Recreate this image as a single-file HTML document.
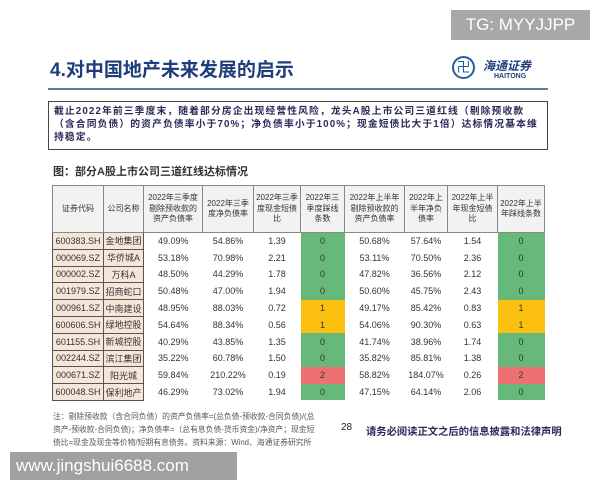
<!DOCTYPE html>
<html><head><meta charset="utf-8"><style>
body{margin:0;width:600px;height:480px;background:#fff;position:relative;overflow:hidden;font-family:"Liberation Sans","Noto Sans CJK SC",sans-serif;}
.abs{position:absolute}
table{border-collapse:collapse;table-layout:fixed;position:absolute;left:52px;top:185px;width:492px}
td{font-size:9px;text-align:center;height:15.8px;padding:0;color:#333;border:none}
th{font-size:8px;font-weight:normal;background:#f2f2f2;border:1px solid #888;height:46px;color:#333;line-height:10.5px;padding:0 2px}
td.c{background:#f5e6d8;border:1px solid #555;color:#333}
.g{background:#66b978}.y{background:#fcc010}.r{background:#ee7070}
</style></head><body>
<div class="abs" style="left:451px;top:10px;width:139px;height:30px;background:#a8a8a8;color:#fff;font-size:17px;line-height:30px;text-align:center">TG: MYYJJPP</div>
<div class="abs" style="left:50px;top:55px;font-size:19px;font-weight:bold;color:#1f3d7a">4.对中国地产未来发展的启示</div>
<div class="abs" style="left:452px;top:56px;width:23px;height:23px;border:2px solid #1f5f9f;border-radius:50%;box-sizing:border-box;color:#1f5f9f;font-size:14px;line-height:19px;text-align:center">卍</div>
<div class="abs" style="left:483px;top:57px;font-size:12px;color:#1f3d7a;font-style:italic;font-weight:bold">海通证券</div>
<div class="abs" style="left:494px;top:73px;font-size:7px;color:#1f3d7a;font-weight:bold">HAITONG</div>
<div class="abs" style="left:48px;top:88px;width:500px;height:2px;background:#5d7ca8"></div>
<div class="abs" style="left:48px;top:101px;width:500px;height:49px;border:1px solid #444;box-sizing:border-box;padding:3px 5px;font-size:9.8px;line-height:13px;color:#2a2a5a;font-weight:bold;white-space:nowrap;letter-spacing:1.1px">截止2022年前三季度末，随着部分房企出现经营性风险，龙头A股上市公司三道红线（剔除预收款<br>（含合同负债）的资产负债率小于70%；净负债率小于100%；现金短债比大于1倍）达标情况基本维<br>持稳定。</div>
<div class="abs" style="left:53px;top:163px;font-size:11px;font-weight:bold;color:#333">图：部分A股上市公司三道红线达标情况</div>
<table>
<colgroup><col style="width:51px"><col style="width:40px"><col style="width:59px"><col style="width:51px"><col style="width:47px"><col style="width:44px"><col style="width:60px"><col style="width:43px"><col style="width:50px"><col style="width:47px"></colgroup>
<tr><th>证券代码</th><th>公司名称</th><th>2022年三季度剔除预收款的资产负债率</th><th>2022年三季度净负债率</th><th>2022年三季度现金短债比</th><th>2022年三季度踩线条数</th><th>2022年上半年剔除预收款的资产负债率</th><th>2022年上半年净负债率</th><th>2022年上半年现金短债比</th><th>2022年上半年踩线条数</th></tr>
<tr><td class="c">600383.SH</td><td class="c">金地集团</td><td>49.09%</td><td>54.86%</td><td>1.39</td><td class="g">0</td><td>50.68%</td><td>57.64%</td><td>1.54</td><td class="g">0</td></tr>
<tr><td class="c">000069.SZ</td><td class="c">华侨城A</td><td>53.18%</td><td>70.98%</td><td>2.21</td><td class="g">0</td><td>53.11%</td><td>70.50%</td><td>2.36</td><td class="g">0</td></tr>
<tr><td class="c">000002.SZ</td><td class="c">万科A</td><td>48.50%</td><td>44.29%</td><td>1.78</td><td class="g">0</td><td>47.82%</td><td>36.56%</td><td>2.12</td><td class="g">0</td></tr>
<tr><td class="c">001979.SZ</td><td class="c">招商蛇口</td><td>50.48%</td><td>47.00%</td><td>1.94</td><td class="g">0</td><td>50.60%</td><td>45.75%</td><td>2.43</td><td class="g">0</td></tr>
<tr><td class="c">000961.SZ</td><td class="c">中南建设</td><td>48.95%</td><td>88.03%</td><td>0.72</td><td class="y">1</td><td>49.17%</td><td>85.42%</td><td>0.83</td><td class="y">1</td></tr>
<tr><td class="c">600606.SH</td><td class="c">绿地控股</td><td>54.64%</td><td>88.34%</td><td>0.56</td><td class="y">1</td><td>54.06%</td><td>90.30%</td><td>0.63</td><td class="y">1</td></tr>
<tr><td class="c">601155.SH</td><td class="c">新城控股</td><td>40.29%</td><td>43.85%</td><td>1.35</td><td class="g">0</td><td>41.74%</td><td>38.96%</td><td>1.74</td><td class="g">0</td></tr>
<tr><td class="c">002244.SZ</td><td class="c">滨江集团</td><td>35.22%</td><td>60.78%</td><td>1.50</td><td class="g">0</td><td>35.82%</td><td>85.81%</td><td>1.38</td><td class="g">0</td></tr>
<tr><td class="c">000671.SZ</td><td class="c">阳光城</td><td>59.84%</td><td>210.22%</td><td>0.19</td><td class="r">2</td><td>58.82%</td><td>184.07%</td><td>0.26</td><td class="r">2</td></tr>
<tr><td class="c">600048.SH</td><td class="c">保利地产</td><td>46.29%</td><td>73.02%</td><td>1.94</td><td class="g">0</td><td>47.15%</td><td>64.14%</td><td>2.06</td><td class="g">0</td></tr>
</table>
<div class="abs" style="left:53px;top:410px;font-size:7.8px;line-height:13px;color:#555;white-space:nowrap">注：剔除预收款（含合同负债）的资产负债率=(总负债-预收款-合同负债)/(总<br>资产-预收款-合同负债)；净负债率=（总有息负债-货币资金)/净资产；现金短<br>债比=现金及现金等价物/短期有息债务。资料来源：Wind、海通证券研究所</div>
<div class="abs" style="left:341px;top:422px;font-size:10px;color:#222">28</div>
<div class="abs" style="left:366px;top:423px;font-size:10.3px;font-weight:bold;color:#2a2a5a">请务必阅读正文之后的信息披露和法律声明</div>
<div class="abs" style="left:10px;top:452px;width:227px;height:28px;background:#a0a0a0;color:#fff;font-size:17px;line-height:28px;padding-left:6px;box-sizing:border-box">www.jingshui6688.com</div>
</body></html>
